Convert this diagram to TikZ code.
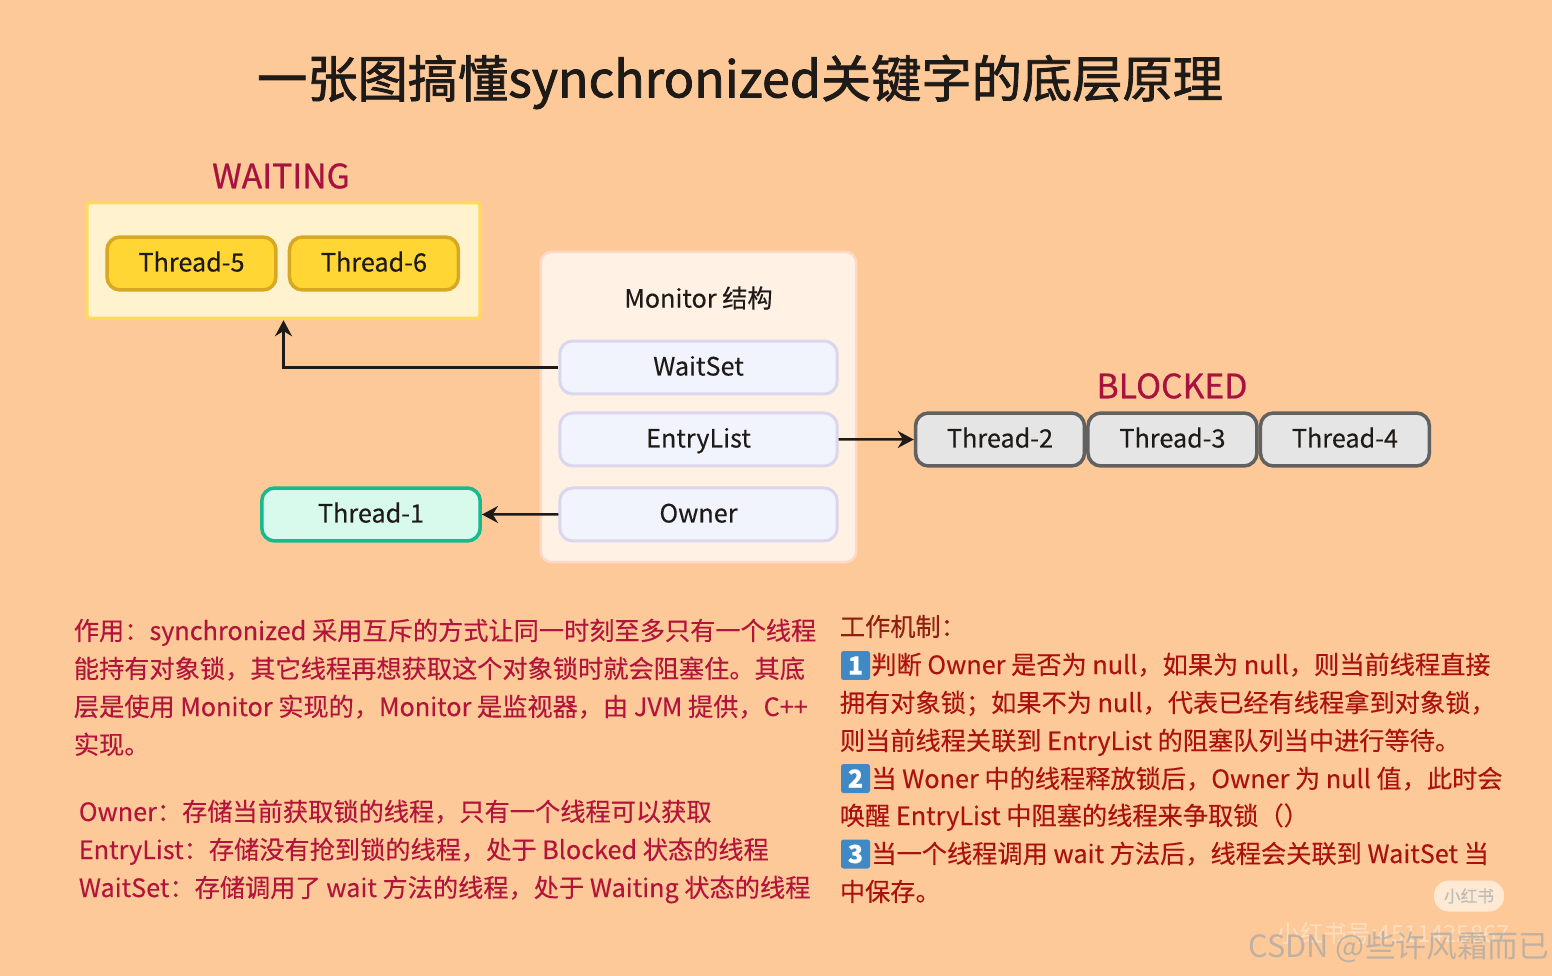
\documentclass[tikz,border=0pt]{standalone}
\usepackage{fontspec}
\usepackage{xcolor}
\usetikzlibrary{positioning,arrows.meta}
\setmainfont{Noto Sans CJK SC}[FakeBold=0.25]
\newfontfamily\titlefont{Noto Sans CJK SC}[FakeBold=1.6]
\newfontfamily\statefont{Noto Sans CJK SC}[FakeBold=0.7]
\newfontfamily\markfont{Noto Sans CJK SC}
\definecolor{pagebg}{HTML}{FDC998}
\definecolor{inkdark}{HTML}{1E1A17}
\definecolor{leftred}{HTML}{B3143C}
\definecolor{rightred}{HTML}{AB120F}
\definecolor{headred}{HTML}{8F1F10}
\definecolor{statered}{HTML}{A8123F}
\definecolor{waitfill}{HTML}{FFF3CF}
\definecolor{waitedge}{HTML}{FDD95E}
\definecolor{threadfill}{HTML}{FFD633}
\definecolor{threadedge}{HTML}{D9A822}
\definecolor{monitorfill}{HTML}{FFF1E3}
\definecolor{monitoredge}{HTML}{FFD9C8}
\definecolor{slotfill}{HTML}{F1F3FD}
\definecolor{slotedge}{HTML}{DAD6EE}
\definecolor{ownerfill}{HTML}{D8FAEC}
\definecolor{owneredge}{HTML}{18B98C}
\definecolor{badgeblue}{HTML}{3F8AC6}
\tikzset{
    threadbox/.style={draw, rounded corners=0.26cm, line width=0.07cm, minimum width=3.38cm, minimum height=1.06cm, font=\fontsize{14.35}{16}\selectfont, text=inkdark, inner sep=0pt, text height=0.44cm, text depth=0.12cm},
    waitthread/.style={threadbox, fill=threadfill, draw=threadedge},
    blockthread/.style={threadbox, fill=black!10, draw=black!62},
    slotbox/.style={draw=slotedge, fill=slotfill, rounded corners=0.26cm, line width=0.06cm, minimum width=5.55cm, minimum height=1.06cm, font=\fontsize{14.35}{16}\selectfont, text=inkdark, inner sep=0pt, text height=0.44cm, text depth=0.12cm},
    leftline/.style={anchor=base west, text=leftred, inner sep=0pt, font=\fontsize{14.35}{16}\selectfont},
    rightline/.style={anchor=base west, text=rightred, inner sep=0pt, font=\fontsize{14.35}{16}\selectfont},
    numbadge/.style={fill=badgeblue, text=white, rounded corners=0.05cm, minimum size=0.58cm, inner sep=0pt, font=\fontsize{14.2}{16}\selectfont\bfseries},
    statetitle/.style={text=statered, inner sep=0pt, font=\statefont\fontsize{19.2}{22}\selectfont},
    linkline/.style={->, line width=0.05cm, draw=inkdark},
}
\begin{document}
\begin{tikzpicture}[>={Stealth[length=0.32cm,width=0.34cm]}, x=0.02cm, y=-0.02cm]

    % Page and title
    \fill[pagebg] (0, 0) rectangle (1552, 976);
    \node[text=inkdark, inner sep=0pt, font=\titlefont\fontsize{28.6}{32}\selectfont] (title) at (740, 82) {一张图搞懂synchronized关键字的底层原理};

    % Waiting threads
    \node[statetitle] (waitlabel) at (281, 176) {WAITING};
    \node[draw=waitedge, fill=waitfill, rounded corners=0.06cm, line width=0.07cm, minimum width=7.87cm, minimum height=2.32cm] (waiting) at (283.5, 260.5) {};
    \node[waitthread] (thread5) at (191.5, 263.5) {Thread-5};
    \node[waitthread, right=0.2cm of thread5] (thread6) {Thread-6};

    % Monitor structure
    \node[draw=monitoredge, fill=monitorfill, rounded corners=0.22cm, line width=0.05cm, minimum width=6.31cm, minimum height=6.21cm] (monitor) at (698.5, 407) {};
    \node[text=inkdark, inner sep=0pt, font=\fontsize{14.35}{16}\selectfont] (monitortitle) at (698.5, 298) {Monitor 结构};
    \node[slotbox] (waitset) at (698.5, 367.5) {WaitSet};
    \node[slotbox, below=0.32cm of waitset] (entrylist) {EntryList};
    \node[slotbox, below=0.38cm of entrylist] (owner) {Owner};

    % Owner thread
    \node[threadbox, fill=ownerfill, draw=owneredge, minimum width=4.37cm] (thread1) at (371, 514.5) {Thread-1};

    % Blocked threads
    \node[statetitle] (blocklabel) at (1172, 386) {BLOCKED};
    \node[blockthread] (thread2) at (1000, 439.5) {Thread-2};
    \node[blockthread, right=0cm of thread2] (thread3) {Thread-3};
    \node[blockthread, right=0cm of thread3] (thread4) {Thread-4};

    % Connectors
    \draw[linkline] (waitset.west) -| (waiting.south);
    \draw[linkline] (entrylist.east) -- (thread2.west);
    \draw[linkline] (owner.west) -- (thread1.east);

    % Left text
    \node[leftline] (usage1) at (73.5, 640) {作用：synchronized 采用互斥的方式让同一时刻至多只有一个线程};
    \node[leftline] (usage2) at (73.5, 678) {能持有对象锁，其它线程再想获取这个对象锁时就会阻塞住。其底};
    \node[leftline] (usage3) at (73.5, 716) {层是使用 Monitor 实现的，Monitor 是监视器，由 JVM 提供，C++};
    \node[leftline] (usage4) at (73.5, 754) {实现。};
    \node[leftline] (part1) at (78.5, 821) {Owner：存储当前获取锁的线程，只有一个线程可以获取};
    \node[leftline] (part2) at (78.5, 859) {EntryList：存储没有抢到锁的线程，处于 Blocked 状态的线程};
    \node[leftline] (part3) at (78.5, 897) {WaitSet：存储调用了 wait 方法的线程，处于 Waiting 状态的线程};

    % Right text
    \node[rightline, text=headred] (work0) at (839.5, 636) {工作机制：};
    \node[numbadge] (badge1) at (855.5, 665.5) {1};
    \node[rightline] (work1) at (871, 674) {判断 Owner 是否为 null，如果为 null，则当前线程直接};
    \node[rightline] (work2) at (839.5, 712) {拥有对象锁；如果不为 null，代表已经有线程拿到对象锁，};
    \node[rightline] (work3) at (839.5, 750) {则当前线程关联到 EntryList 的阻塞队列当中进行等待。};
    \node[numbadge] (badge2) at (855.5, 778.5) {2};
    \node[rightline] (work4) at (871, 788) {当 Woner 中的线程释放锁后，Owner 为 null 值，此时会};
    \node[rightline] (work5) at (839.5, 825) {唤醒 EntryList 中阻塞的线程来争取锁（）};
    \node[numbadge] (badge3) at (855.5, 854) {3};
    \node[rightline] (work6) at (871, 863) {当一个线程调用 wait 方法后，线程会关联到 WaitSet 当};
    \node[rightline] (work7) at (839.5, 901) {中保存。};

    % Watermarks
    \node[fill=white, fill opacity=0.6, text opacity=0.8, text=black!30, rounded corners=0.3cm, minimum width=1.4cm, minimum height=0.62cm, inner sep=0pt, font=\fontsize{9.5}{11}\selectfont] (logo) at (1469, 896) {小红书};
    \node[text=white, text opacity=0.4, inner sep=0pt, font=\markfont\fontsize{13.5}{15}\selectfont] (account) at (1393, 933) {小红书号:4511425867};
    \node[text=black!35, text opacity=0.7, inner sep=0pt, font=\markfont\fontsize{17.5}{20}\selectfont] (csdn) at (1399, 947) {CSDN @些许风霜而已};

\end{tikzpicture}
\end{document}
